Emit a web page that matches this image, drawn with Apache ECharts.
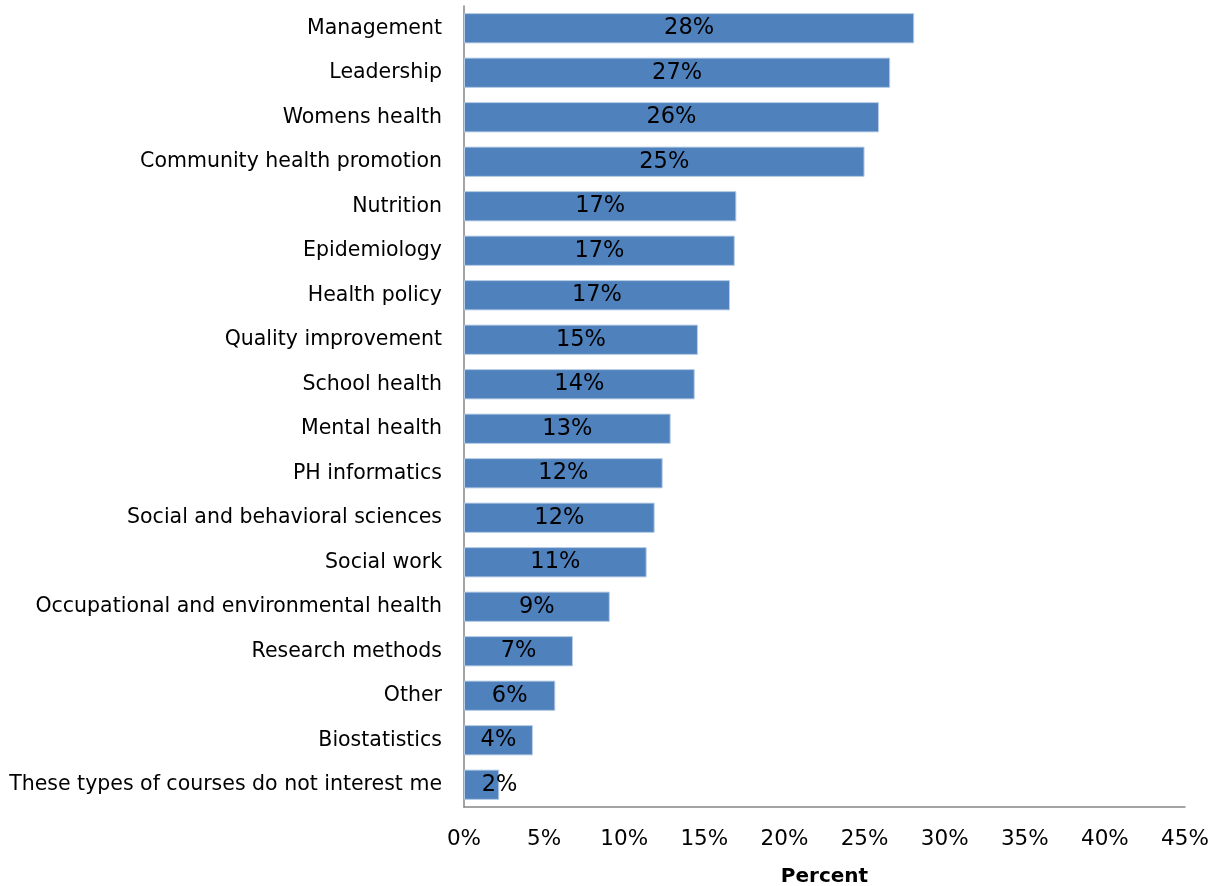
<!DOCTYPE html>
<html>
<head>
<meta charset="utf-8">
<script src="https://cdn.jsdelivr.net/npm/echarts@6/dist/echarts.min.js"></script>
<style>
  html, body { margin: 0; padding: 0; background: #ffffff; }
  #chart { width: 1217px; height: 886px; }
</style>
</head>
<body>
<div id="chart"></div>
<script>
// Course interest categories, top to bottom
const categories = [
  'Management',
  'Leadership',
  'Womens health',
  'Community health promotion',
  'Nutrition',
  'Epidemiology',
  'Health policy',
  'Quality improvement',
  'School health',
  'Mental health',
  'PH informatics',
  'Social and behavioral sciences',
  'Social work',
  'Occupational and environmental health',
  'Research methods',
  'Other',
  'Biostatistics',
  'These types of courses do not interest me'
];

// Share of respondents (percent), same order as categories
const percents = [28.1, 26.6, 25.9, 25.0, 17.0, 16.9, 16.6, 14.6, 14.4, 12.9, 12.4, 11.9, 11.4, 9.1, 6.8, 5.7, 4.3, 2.2];

// Horizontal axis ticks
const xTicks = [0, 5, 10, 15, 20, 25, 30, 35, 40, 45];

const FONT = '"DejaVu Sans", sans-serif';

// Very short bars get their label nudged past the bar end
const barData = percents.map(v => v < 3
  ? { value: v, label: { offset: [18, 0] } }
  : v);

const chart = echarts.init(document.getElementById('chart'));

chart.setOption({
  animation: false,
  backgroundColor: '#ffffff',
  grid: { left: 464, right: 32, top: 6, bottom: 79, containLabel: false, outerBoundsMode: 'none' },
  xAxis: {
    type: 'value',
    min: xTicks[0],
    max: xTicks[xTicks.length - 1],
    interval: xTicks[1] - xTicks[0],
    name: 'Percent',
    nameLocation: 'middle',
    nameGap: 60,
    nameTextStyle: { fontFamily: FONT, fontSize: 20, fontWeight: 'bold', color: '#000' },
    axisLine: { show: true, lineStyle: { color: '#868686', width: 1.5 } },
    axisTick: { show: false },
    splitLine: { show: false },
    axisLabel: {
      fontFamily: FONT, fontSize: 21.5, color: '#000', margin: 21,
      formatter: v => v + '%'
    }
  },
  yAxis: {
    type: 'category',
    data: categories,
    inverse: true,
    axisLine: { show: true, lineStyle: { color: '#868686', width: 1.5 } },
    axisTick: { show: false },
    axisLabel: { fontFamily: FONT, fontSize: 20.5, color: '#000', margin: 22 }
  },
  series: [{
    type: 'bar',
    data: barData,
    barCategoryGap: '32%',
    itemStyle: { color: '#4f81bd', borderColor: '#b9cde5', borderWidth: 1 },
    label: {
      show: true,
      position: 'inside',
      fontFamily: FONT,
      fontSize: 22.5,
      color: '#000',
      formatter: p => Math.round(p.value) + '%'
    }
  }]
});
</script>
</body>
</html>
